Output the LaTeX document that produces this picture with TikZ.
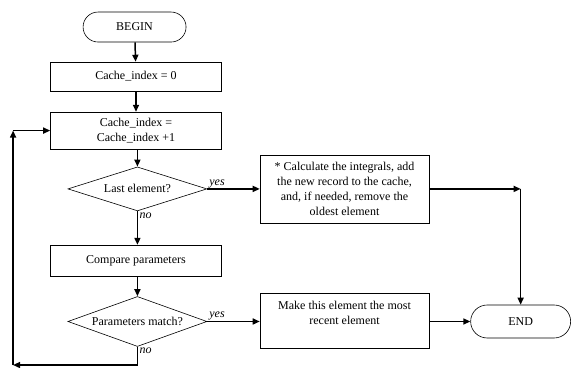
\documentclass[tikz,border=0pt]{standalone}
\usepackage{fontspec}
\setmainfont{Liberation Serif}
\usetikzlibrary{shapes.geometric,shapes.misc,arrows.meta}

\begin{document}
\begin{tikzpicture}[
	font=\fontsize{12pt}{15pt}\selectfont,
	box/.style={draw, line width=0.6pt, align=center, inner sep=2pt},
	term/.style={draw, line width=0.6pt, rounded rectangle, inner sep=2pt},
	cond/.style={draw, line width=0.6pt, diamond, aspect=3.2, inner sep=0pt, align=center},
	flow/.style={line width=1.5pt, -{Triangle[length=7pt,width=6pt]}},
	lbl/.style={font=\fontsize{12pt}{14pt}\selectfont\itshape, inner sep=1pt}]
	\useasboundingbox (0,0) rectangle (20.14,12.9);
	% left column
	\node[term, minimum width=107pt, minimum height=30pt] (begin) at (4.73,11.95) {BEGIN};
	\node[box, minimum width=171pt, minimum height=29pt] (init) at (4.78,10.21) {Cache\_index = 0};
	\node[box, minimum width=171pt, minimum height=37pt] (incr) at (4.78,8.31) {Cache\_index =\\Cache\_index +1};
	\node[cond, minimum width=139pt, minimum height=44pt] (last) at (4.83,6.26) {Last element?};
	\node[box, minimum width=171pt, minimum height=31pt] (cmp) at (4.78,3.74) {Compare parameters};
	\node[cond, minimum width=139pt, minimum height=50pt] (match) at (4.83,1.60) {Parameters match?};
	% right side
	\node[box, minimum width=169pt, minimum height=68pt] (calc) at (12.11,6.26) {* Calculate the integrals, add\\the new record to the cache,\\and, if needed, remove the\\oldest element};
	\node[box, minimum width=169pt, minimum height=55pt] (make) at (12.11,1.63) {Make this element the most\\recent element\\\mbox{}};
	\node[term, minimum width=104pt, minimum height=33pt] (end) at (18.3,1.60) {END};
	\coordinate (turn) at (end.north |- calc.east);
	\coordinate (loopA) at (0.46,0.07);
	\coordinate (loopB) at (loopA |- incr.west);
	% connectors
	\draw[flow] (begin) -- (init);
	\draw[flow] (init) -- (incr);
	\draw[flow] (incr.south -| last.north) -- (last.north);
	\draw[flow] (last.south) -- (last.south |- cmp.north);
	\draw[flow] (cmp.south -| match.north) -- (match.north);
	\draw[flow] (last.east) -- (calc.west);
	\draw[flow] (calc.east) -- (turn);
	\draw[flow] (turn) -- (end.north);
	\draw[flow] (match.east) -- (match.east -| make.west);
	\draw[flow] (make.east |- end.west) -- (end.west);
	\draw[flow] (match.south) |- (loopA);
	\draw[flow] (loopA) -- (loopB);
	\draw[flow] (loopB) -- (incr.west |- loopB);
	% labels
	\node[lbl, anchor=south west] (yes1) at ([xshift=1pt]last.east) {yes};
	\node[lbl, anchor=north west] (no1) at ([xshift=1pt]last.south) {no};
	\node[lbl, anchor=south west] (yes2) at ([xshift=1pt]match.east) {yes};
	\node[lbl, anchor=north west] (no2) at ([xshift=1pt]match.south) {no};
\end{tikzpicture}
\end{document}
